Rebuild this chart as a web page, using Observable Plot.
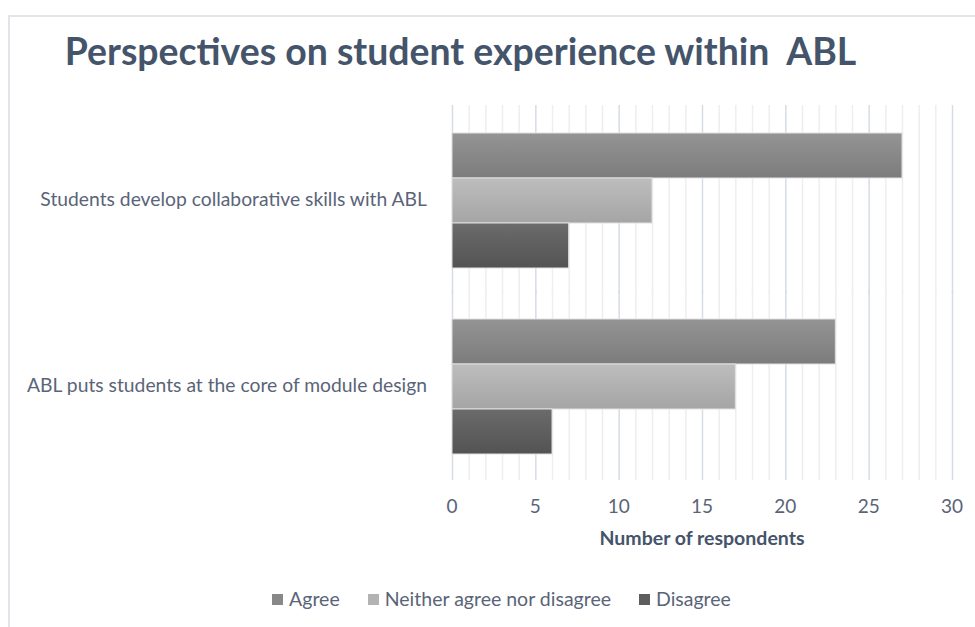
<!DOCTYPE html>
<html>
<head>
<meta charset="utf-8">
<script src="https://cdn.jsdelivr.net/npm/d3@7"></script>
<script src="https://cdn.jsdelivr.net/npm/@observablehq/plot@0.6"></script>
<style>
  html, body { margin: 0; padding: 0; background: #fff; }
  #wrap { position: relative; width: 975px; height: 627px; overflow: hidden; font-family: Lato, "Open Sans", sans-serif; }
  #frame { position: absolute; left: 8px; top: 15px; width: 980px; height: 640px; border: 2px solid #e1e5ea; box-sizing: border-box; }
  #title { position: absolute; left: -27px; width: 975px; top: 32px; line-height: 1; text-align: center; font-size: 37.4px; font-weight: bold; color: #44546a; white-space: pre; }
  #legend { position: absolute; left: 14px; width: 975px; top: 587px; line-height: 1.2; text-align: center; font-size: 19.5px; color: #5a6478; }
  #legend span.item { display: inline-block; margin: 0 14px; }
  #legend span.sw { display: inline-block; width: 11px; height: 11px; margin-right: 6px; vertical-align: 1px; }
  #chart { position: absolute; left: 0; top: 0; }
</style>
</head>
<body>
<div id="wrap">
  <div id="frame"></div>
  <div id="chart"></div>
  <div id="title"></div>
  <div id="legend"></div>
</div>
<script>
const titleText = "Perspectives on student experience within  ABL";
const categories = ["Students develop collaborative skills with ABL", "ABL puts students at the core of module design"];
const seriesNames = ["Agree", "Neither agree nor disagree", "Disagree"];
const agree = [27, 23];
const neither = [12, 17];
const disagree = [7, 6];
const xTicks = [0, 5, 10, 15, 20, 25, 30];
const xLabel = "Number of respondents";
const seriesColors = ["#888888", "#b3b3b3", "#5e5e5e"];

const seriesValues = [agree, neither, disagree];
const data = [];
categories.forEach((c, i) => {
  seriesNames.forEach((s, j) => data.push({category: c, series: s, value: seriesValues[j][i]}));
});
const gradIds = ["gAgree", "gNeither", "gDisagree"];
const fillFor = s => `url(#${gradIds[seriesNames.indexOf(s)]})`;

const chart = Plot.plot({
  width: 975,
  height: 627,
  marginLeft: 452,
  marginRight: 23,
  marginTop: 107,
  marginBottom: 148,
  style: {fontFamily: "Lato, 'Open Sans', sans-serif", background: "transparent"},
  x: {domain: [0, 30], ticks: xTicks, label: null, axis: null},
  y: {domain: seriesNames, paddingInner: 0, paddingOuter: 0.527, axis: null},
  fy: {domain: categories, padding: 0, label: null, axis: null},
  marks: [
    Plot.ruleX(d3.range(0, 31), {stroke: d => d % 5 === 0 ? "#d6dce6" : "#eceef2", strokeWidth: 1.5, insetTop: -2, insetBottom: -1}),
    Plot.barX(data, {fy: "category", y: "series", x: "value", fill: d => fillFor(d.series), stroke: "#e0e0e0", strokeWidth: 1}),
  ]
});

// gradients
const ns = "http://www.w3.org/2000/svg";
const defs = document.createElementNS(ns, "defs");
const grads = [["#949494", "#7c7c7c"], ["#bdbdbd", "#a5a5a5"], ["#6b6b6b", "#535353"]];
grads.forEach((gr, i) => {
  const lg = document.createElementNS(ns, "linearGradient");
  lg.setAttribute("id", gradIds[i]);
  lg.setAttribute("x1", "0"); lg.setAttribute("y1", "0"); lg.setAttribute("x2", "0"); lg.setAttribute("y2", "1");
  [[0, gr[0]], [1, gr[1]]].forEach(([o, c]) => {
    const st = document.createElementNS(ns, "stop");
    st.setAttribute("offset", o); st.setAttribute("stop-color", c);
    lg.appendChild(st);
  });
  defs.appendChild(lg);
});
chart.insertBefore(defs, chart.firstChild);

// Axis & category labels via Plot scales
const xs = chart.scale("x");
const fys = chart.scale("fy");
const g = document.createElementNS(ns, "g");
g.setAttribute("font-family", "Lato, 'Open Sans', sans-serif");
xTicks.forEach(t => {
  const tx = document.createElementNS(ns, "text");
  tx.setAttribute("x", xs.apply(t));
  tx.setAttribute("y", 513);
  tx.setAttribute("text-anchor", "middle");
  tx.setAttribute("font-size", "19");
  tx.setAttribute("fill", "#5a6478");
  tx.textContent = t;
  g.appendChild(tx);
});
const xl = document.createElementNS(ns, "text");
xl.setAttribute("x", (xs.apply(0) + xs.apply(30)) / 2);
xl.setAttribute("y", 545);
xl.setAttribute("text-anchor", "middle");
xl.setAttribute("font-size", "19.5");
xl.setAttribute("font-weight", "bold");
xl.setAttribute("fill", "#44546a");
xl.textContent = xLabel;
g.appendChild(xl);
categories.forEach(c => {
  const tx = document.createElementNS(ns, "text");
  tx.setAttribute("x", 427);
  tx.setAttribute("y", fys.apply(c) + fys.bandwidth / 2 + 6);
  tx.setAttribute("text-anchor", "end");
  tx.setAttribute("font-size", "19.3");
  tx.setAttribute("fill", "#5a6478");
  tx.textContent = c;
  g.appendChild(tx);
});
chart.appendChild(g);
document.getElementById("chart").appendChild(chart);

document.getElementById("title").textContent = titleText;
const leg = document.getElementById("legend");
seriesNames.forEach((s, i) => {
  const item = document.createElement("span");
  item.className = "item";
  const sw = document.createElement("span");
  sw.className = "sw";
  sw.style.background = seriesColors[i];
  item.appendChild(sw);
  item.appendChild(document.createTextNode(s));
  leg.appendChild(item);
});
</script>
</body>
</html>
